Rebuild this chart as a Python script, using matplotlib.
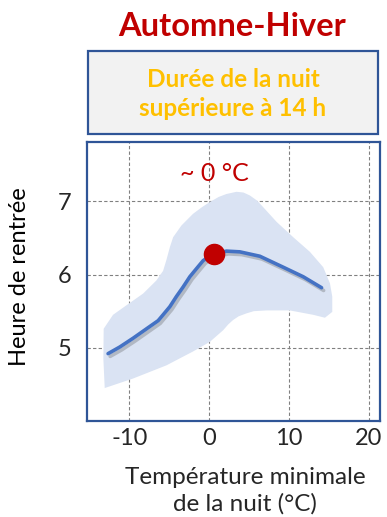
import matplotlib
matplotlib.use("Agg")
import matplotlib.pyplot as plt
import matplotlib.patheffects as pe
from matplotlib.patches import Rectangle

plt.rcParams['font.family'] = ['Lato', 'DejaVu Sans']

# Data
curve_t = [-12.66, -11.20, -9.53, -7.44, -6.39, -5.77, -4.93, -4.10, -3.26, -2.42, -1.59, -0.75, 0.08,
           0.63, 1.34, 2.17, 3.84, 6.35, 9.28, 11.78, 14.08]
curve_h = [4.92, 5.01, 5.13, 5.29, 5.37, 5.45, 5.56, 5.70, 5.83, 5.97, 6.08, 6.19, 6.25,
           6.28, 6.30, 6.32, 6.31, 6.25, 6.10, 5.97, 5.82]
peak_t = [0.63]
peak_h = [6.28]
band_upper_t = [-13.21, -12.04, -10.36, -8.27, -6.60, -5.77, -5.35, -4.93, -4.51, -3.47, -2.01, -0.9, 0.08,
                1.2, 2.17, 3.43, 4.3, 5.10, 6.0, 6.77, 8.44, 10.53, 12.62, 14.29, 15.13, 15.42, 15.42]
band_upper_h = [5.26, 5.45, 5.58, 5.74, 5.92, 6.05, 6.20, 6.37, 6.51, 6.67, 6.83, 6.92, 6.99,
                7.06, 7.10, 7.13, 7.12, 7.08, 7.01, 6.92, 6.72, 6.51, 6.31, 6.10, 5.88, 5.70, 5.49]
band_lower_t = [14.50, 13.04, 10.11, 7.19, 5.6, 4.68, 3.7, 3.01, 2.4, 1.76, 0.08, -2.01, -5.35, -9.53, -13.08, -13.25]
band_lower_h = [5.41, 5.45, 5.51, 5.51, 5.50, 5.47, 5.43, 5.38, 5.32, 5.24, 5.08, 4.95, 4.76, 4.58, 4.45, 4.85]
x_ticks = [-10, 0, 10, 20]
y_ticks = [5, 6, 7]

title = "Automne-Hiver"
subtitle = "Durée de la nuit\nsupérieure à 14 h"
peak_label = "~ 0 °C"
xlabel = "Température minimale\nde la nuit (°C)"
ylabel = "Heure de rentrée"

W, H = 387, 517
fig = plt.figure(figsize=(W / 100, H / 100), dpi=100)

ax = fig.add_axes([87 / W, 1 - 421 / H, 293 / W, 279 / H])
ax.set_xlim(-15.3, 21.4)
ax.set_ylim(4.0, 7.81)

ax.fill(band_upper_t + band_lower_t, band_upper_h + band_lower_h, color='#dae3f3', lw=0, zorder=1)
ax.plot(curve_t, curve_h, color='#4472c4', lw=2.6, solid_capstyle='round', solid_joinstyle='round', zorder=3,
        path_effects=[pe.SimpleLineShadow(offset=(1.5, -2), alpha=0.3, shadow_color='#555555'), pe.Normal()])
ax.plot(peak_t, peak_h, 'o', color='#c00000', ms=14.5, zorder=4)
ax.text(peak_t[0], 7.38, peak_label, color='#c00000', fontsize=18, ha='center', va='center')

ax.set_xticks(x_ticks)
ax.set_yticks(y_ticks)
ax.set_xticklabels([str(v) for v in x_ticks])
ax.set_yticklabels([str(v) for v in y_ticks])
ax.grid(True, ls=(0, (3, 2)), color='#808080', lw=0.8, zorder=0)
ax.set_axisbelow(True)
ax.tick_params(length=0, labelsize=17, colors='#262626')
ax.tick_params(axis='y', pad=11)
ax.tick_params(axis='x', pad=5)
for s in ax.spines.values():
    s.set_color('#2f5597')
    s.set_linewidth(1.6)

fig.text(20 / W, 1 - 277 / H, ylabel, rotation=90, ha='center', va='center', fontsize=17, color='black')
fig.text(245 / W, 1 - 491 / H, xlabel, ha='center', va='center', fontsize=17.5, color='#262626', linespacing=1.3)

fig.text(232 / W, 1 - 27 / H, title, ha='center', va='center', fontsize=23.5, fontweight='bold', color='#c00000')
box = Rectangle((88 / W, 1 - 134 / H), 290 / W, 83 / H, transform=fig.transFigure,
                facecolor='#f2f2f2', edgecolor='#2f5597', lw=1.6)
fig.patches.append(box)
fig.text(233 / W, 1 - 94 / H, subtitle, ha='center', va='center', fontsize=17.5, fontweight='bold',
         color='#ffc000', linespacing=1.3)

fig.savefig('out.png', dpi=100)
